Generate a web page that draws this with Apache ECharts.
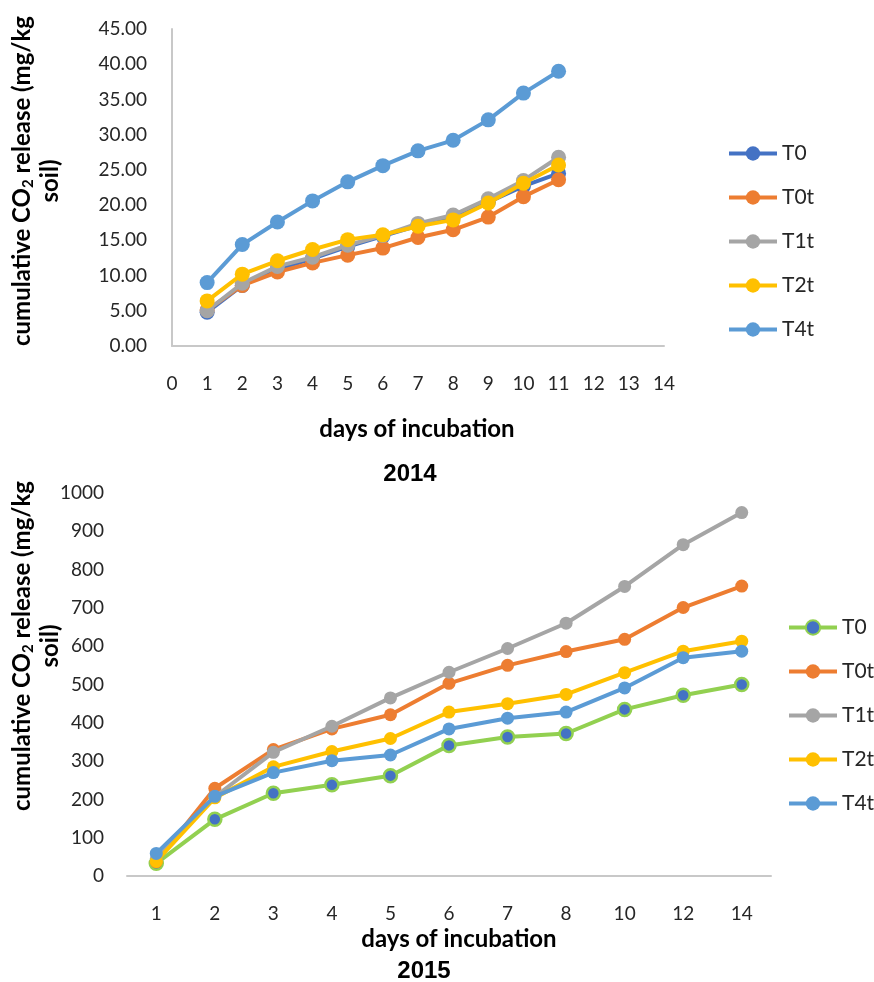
<!DOCTYPE html>
<html>
<head>
<meta charset="utf-8">
<script src="https://cdn.jsdelivr.net/npm/echarts@6/dist/echarts.min.js"></script>
<style>html,body{margin:0;padding:0;background:#fff}#c{width:874px;height:982px}</style>
</head>
<body>
<div id="c"></div>
<script>
// ---- 2014 data (x = day of incubation) ----
var days2014 = [1, 2, 3, 4, 5, 6, 7, 8, 9, 10, 11];
var xTicks2014 = [0, 14];
var T0_2014  = [4.8, 8.6, 10.9, 12.4, 14.1, 15.6, 17.1, 18.3, 20.4, 22.7, 24.5];
var T0t_2014 = [5.1, 8.6, 10.5, 11.8, 12.9, 13.9, 15.4, 16.5, 18.3, 21.2, 23.6];
var T1t_2014 = [5.0, 8.9, 11.3, 12.6, 14.3, 15.7, 17.4, 18.6, 20.9, 23.5, 26.8];
var T2t_2014 = [6.4, 10.2, 12.1, 13.7, 15.1, 15.8, 17.0, 17.9, 20.3, 23.1, 25.7];
var T4t_2014 = [9.0, 14.4, 17.6, 20.6, 23.3, 25.6, 27.7, 29.2, 32.1, 35.9, 39.0];

// ---- 2015 data (categories) ----
var days2015 = ['1', '2', '3', '4', '5', '6', '7', '8', '10', '12', '14'];
var T0_2015  = [33, 148, 216, 238, 262, 341, 363, 372, 435, 472, 500];
var T0t_2015 = [37, 229, 330, 384, 421, 503, 550, 586, 618, 701, 757];
var T1t_2015 = [45, 207, 323, 391, 465, 532, 594, 660, 756, 865, 949];
var T2t_2015 = [38, 204, 285, 325, 359, 428, 450, 474, 531, 587, 613];
var T4t_2015 = [59, 208, 270, 301, 316, 384, 412, 428, 491, 570, 587];

var seriesNames = ['T0', 'T0t', 'T1t', 'T2t', 'T4t'];
var colors2014 = ['#4472C4', '#ED7D31', '#A5A5A5', '#FFC000', '#5B9BD5'];
var colors2015 = ['#92D050', '#ED7D31', '#A5A5A5', '#FFC000', '#5B9BD5'];

var FONT = 'Lato';
var TXT = '#262626';
var AX = '#C8C8C8';

function pairs(xs, ys) { return xs.map(function (x, i) { return [x, ys[i]]; }); }

var data2014 = [T0_2014, T0t_2014, T1t_2014, T2t_2014, T4t_2014];
var data2015 = [T0_2015, T0t_2015, T1t_2015, T2t_2015, T4t_2015];

var series = [];
seriesNames.forEach(function (n, i) {
  series.push({
    name: n, type: 'line', xAxisIndex: 0, yAxisIndex: 0,
    data: pairs(days2014, data2014[i]),
    symbol: 'circle', symbolSize: 15,
    lineStyle: { color: colors2014[i], width: 4 },
    itemStyle: { color: colors2014[i] },
    z: 2 + i, animation: false
  });
});
seriesNames.forEach(function (n, i) {
  var st = { color: colors2015[i] };
  if (i === 0) st = { color: '#4472C4', borderColor: '#92D050', borderWidth: 2.5 };
  series.push({
    name: n + ' 2015', type: 'line', xAxisIndex: 1, yAxisIndex: 1,
    data: data2015[i],
    symbol: 'circle', symbolSize: 13,
    lineStyle: { color: colors2015[i], width: 4 },
    itemStyle: st,
    z: 2 + i, animation: false
  });
});

function yTitle(x, y, lines) {
  return {
    type: 'text', x: x, y: y, rotation: Math.PI / 2,
    style: {
      text: lines,
      align: 'center', verticalAlign: 'middle',
      fill: '#000',
      font: 'bold 24px ' + FONT,
      rich: {
        a: { fontFamily: FONT, fontWeight: 'bold', fontSize: 24, fill: '#000', lineHeight: 28 },
        s: { fontFamily: FONT, fontWeight: 'bold', fontSize: 15, fill: '#000', lineHeight: 28, verticalAlign: 'bottom' }
      }
    }
  };
}
function plainText(x, y, t, fam) {
  return {
    type: 'text', x: x, y: y,
    style: { text: t, align: 'center', verticalAlign: 'middle', fill: '#000', font: 'bold 24px ' + fam }
  };
}

var option = {
  backgroundColor: '#fff',
  animation: false,
  grid: [
    { left: 172, top: 29, width: 492, height: 317 },
    { left: 127, top: 493, width: 644, height: 383 }
  ],
  xAxis: [
    {
      type: 'value', gridIndex: 0, min: xTicks2014[0], max: xTicks2014[1], interval: 1,
      axisLine: { show: true, lineStyle: { color: AX, width: 2 } },
      axisTick: { show: false }, splitLine: { show: false },
      axisLabel: { color: TXT, fontFamily: FONT, fontSize: 19, margin: 28 }
    },
    {
      type: 'category', gridIndex: 1, data: days2015, boundaryGap: true,
      axisLine: { show: true, lineStyle: { color: AX, width: 2 } },
      axisTick: { show: false }, splitLine: { show: false },
      axisLabel: { color: TXT, fontFamily: FONT, fontSize: 19, margin: 28 }
    }
  ],
  yAxis: [
    {
      type: 'value', gridIndex: 0, min: 0, max: 45, interval: 5,
      axisLine: { show: true, lineStyle: { color: AX, width: 2 } },
      axisTick: { show: false }, splitLine: { show: false },
      axisLabel: { color: TXT, fontFamily: FONT, fontSize: 19, margin: 25,
        formatter: function (v) { return v.toFixed(2); } }
    },
    {
      type: 'value', gridIndex: 1, min: 0, max: 1000, interval: 100,
      axisLine: { show: false },
      axisTick: { show: false }, splitLine: { show: false },
      axisLabel: { color: TXT, fontFamily: FONT, fontSize: 19, margin: 23,
        formatter: function (v) { return String(v); } }
    }
  ],
  legend: [
    {
      data: seriesNames, orient: 'vertical', left: 722, top: 138,
      itemWidth: 48, itemHeight: 18, itemGap: 23,
      lineStyle: { width: 4 },
      textStyle: { color: TXT, fontFamily: FONT, fontSize: 21 },
      selectedMode: false
    },
    {
      data: seriesNames.map(function (n) { return n + ' 2015'; }),
      formatter: function (n) { return n.split(' ')[0]; },
      orient: 'vertical', left: 782, top: 612,
      itemWidth: 48, itemHeight: 18, itemGap: 23,
      lineStyle: { width: 4 },
      textStyle: { color: TXT, fontFamily: FONT, fontSize: 21 },
      selectedMode: false
    }
  ],
  graphic: [
    yTitle(22, 181, '{a|cumulative CO}{s|2}{a| release (mg/kg}'),
    yTitle(50, 181, '{a|soil)}'),
    yTitle(22, 646, '{a|cumulative CO}{s|2}{a| release (mg/kg}'),
    yTitle(50, 646, '{a|soil)}'),
    plainText(417, 429, 'days of incubation', FONT),
    plainText(410, 474, '2014', '"Liberation Sans"'),
    plainText(459, 939, 'days of incubation', FONT),
    plainText(424, 971, '2015', '"Liberation Sans"')
  ],
  series: series
};

var chart = echarts.init(document.getElementById('c'), null, { renderer: 'canvas' });
chart.setOption(option);
</script>
</body>
</html>
